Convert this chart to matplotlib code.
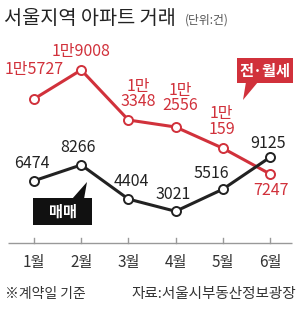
import matplotlib.pyplot as plt
from matplotlib.patches import Polygon

plt.rcParams['font.family'] = ['Noto Sans CJK KR', 'DejaVu Sans']

months = [1, 2, 3, 4, 5, 6]
month_labels = ['1월', '2월', '3월', '4월', '5월', '6월']
rent = [15727, 19008, 13348, 12556, 10159, 7247]      # 전·월세
sale = [6474, 8266, 4404, 3021, 5516, 9125]          # 매매

RED = '#d1313b'
DARK = '#222222'
GRAY = '#333333'


def kr_num(v, wrap=False):
    # 15727 -> "1만5727"
    if v < 10000:
        return str(v)
    sep = '\n' if wrap else ''
    return f"{v // 10000}만{sep}{v % 10000}"


# label offsets in pixels (dx, dy), and whether to break the line
rent_off = [(0, 29), (0, 18), (10, 26), (5, 29), (-1, 27), (1, -17)]
rent_wrap = [False, False, True, True, True, False]
sale_off = [(-2, 17), (-3, 17), (3, 18), (-2, 17), (-11, 16), (-2, 14)]

fig = plt.figure(figsize=(3.0, 3.13), dpi=100)
ax = fig.add_axes([0, 0, 1, 1])
ax.set_xlim(0.28, 6.636)
ax.set_ylim(-8484, 26923)
ax.axis('off')

# baseline with small ticks
ax.plot([0.45, 6.47], [-566, -566], color='#999999', lw=1.0, solid_capstyle='butt')
for m, lab in zip(months, month_labels):
    ax.plot([m, m], [-566, 0], color='#999999', lw=1.0)
    ax.text(m, -2810, lab, ha='center', va='center', fontsize=11, color=GRAY)

# lines
ax.plot(months, rent, color=RED, lw=2.2, marker='o', ms=6.5, mfc='white',
        mec=RED, mew=1.4, zorder=3)
ax.plot(months, sale, color=DARK, lw=2.2, marker='o', ms=6.5, mfc='white',
        mec=DARK, mew=1.4, zorder=3)

for m, v, off, w in zip(months, rent, rent_off, rent_wrap):
    ax.annotate(kr_num(v, w), (m, v), xytext=off, textcoords='offset pixels',
                ha='center', va='center', fontsize=11.5, color=RED,
                linespacing=0.9)
for m, v, off in zip(months, sale, sale_off):
    ax.annotate(kr_num(v), (m, v), xytext=off, textcoords='offset pixels',
                ha='center', va='center', fontsize=11.5, color=DARK)

# callout boxes (figure pixel coords, origin top-left)
H = 313


def fpx(x, y):
    return (x / 300, (H - y) / H)


def callout(x0, y0, x1, y1, tri, text, fc):
    box = plt.Rectangle(fpx(x0, y1), (x1 - x0) / 300, (y1 - y0) / H,
                        transform=fig.transFigure, fc=fc, ec='none', zorder=5)
    fig.add_artist(box)
    fig.add_artist(Polygon([fpx(*p) for p in tri], closed=True,
                           transform=fig.transFigure, fc=fc, ec='none', zorder=5))
    cx, cy = fpx((x0 + x1) / 2, (y0 + y1) / 2)
    fig.text(cx, cy, text, ha='center', va='center', color='white',
             fontsize=11, fontweight='bold', zorder=6)


callout(237, 58, 293, 83, [(246, 82), (258, 82), (243, 100)], '전·월세', RED)
callout(33, 198, 92, 225, [(72, 199), (84, 199), (87, 182)], '매매', '#111111')

# title
fig.text(4 / 300, 1 - 18 / H, '서울지역 아파트 거래', ha='left', va='center',
         fontsize=14.2, color='#222222')
fig.text(185 / 300, 1 - 20 / H, '(단위:건)', ha='left', va='center',
         fontsize=8.5, color='#555555')

# footnotes
fig.text(5 / 300, 1 - 294 / H, '※계약일 기준', ha='left', va='center',
         fontsize=10, color=GRAY)
fig.text(296 / 300, 1 - 294 / H, '자료:서울시부동산정보광장', ha='right', va='center',
         fontsize=10.5, color=GRAY)

fig.savefig('out.png', dpi=100)
